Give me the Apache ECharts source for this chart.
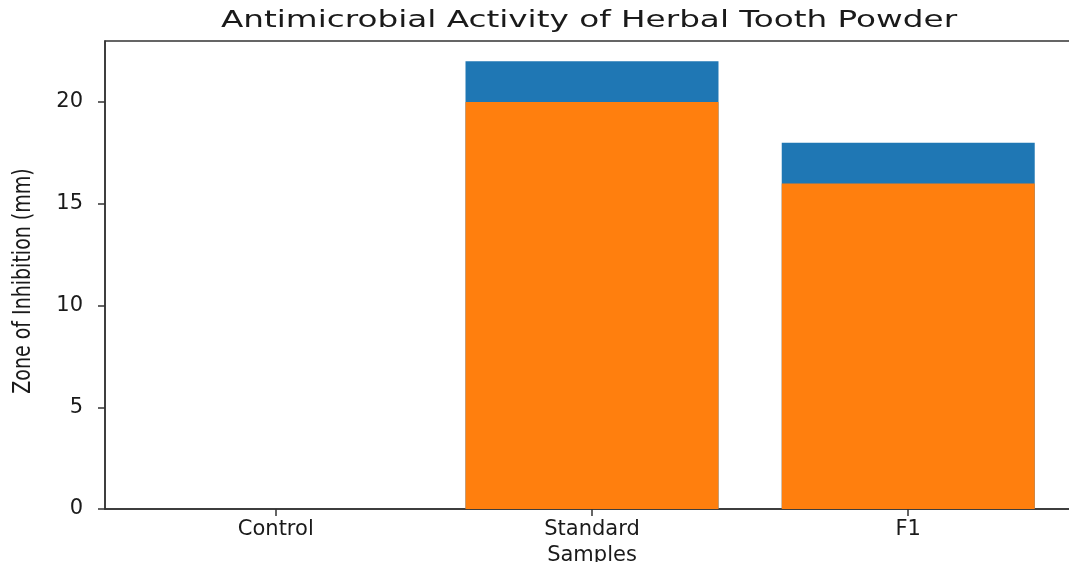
<!DOCTYPE html>
<html>
<head>
<meta charset="utf-8">
<script src="https://cdn.jsdelivr.net/npm/echarts@6/dist/echarts.min.js"></script>
<style>html,body{margin:0;padding:0;background:#fff}#c{width:1069px;height:562px}</style>
</head>
<body>
<div id="c"></div>
<script>
const categories = ['Control', 'Standard', 'F1'];
const blueValues = [0, 22, 18];
const orangeValues = [0, 20, 16];
const yTicks = [0, 5, 10, 15, 20];
const titleText = 'Antimicrobial Activity of Herbal Tooth Powder';
const xName = 'Samples';
const yName = 'Zone of Inhibition (mm)';

const GRID_LEFT = 105, GRID_TOP = 41, GRID_BOTTOM = 53, GRID_RIGHT = -10;
const XMIN = -0.54, XMAX = 2.54;
const gridWidth = 1069 - GRID_LEFT - GRID_RIGHT;
const barPx = 0.8 * gridWidth / (XMAX - XMIN);

const chart = echarts.init(document.getElementById('c'), null, {renderer: 'canvas'});
const font = 'DejaVu Sans';
const txt = '#1a1a1a';
chart.setOption({
  animation: false,
  graphic: [
    {type: 'text', x: 589, y: 21, scaleX: 1.42,
      style: {text: titleText, fontFamily: font, fontSize: 23, fill: txt, align: 'center', verticalAlign: 'middle'}},
    {type: 'text', x: 23, y: 281, rotation: Math.PI / 2, scaleY: 1.35,
      style: {text: yName, fontFamily: font, fontSize: 19, fill: txt, align: 'center', verticalAlign: 'middle'}}
  ],
  grid: {left: GRID_LEFT, right: GRID_RIGHT, top: GRID_TOP, bottom: GRID_BOTTOM,
    outerBoundsMode: 'none', containLabel: false,
    show: true, borderColor: '#333', borderWidth: 1.5, backgroundColor: 'transparent'},
  xAxis: {
    type: 'value', min: XMIN, max: XMAX,
    name: xName, nameLocation: 'middle', nameGap: 34,
    nameTextStyle: {fontFamily: font, fontSize: 21, color: txt},
    axisLine: {show: true, onZero: false, lineStyle: {color: '#333', width: 1.5}},
    axisTick: {show: true, length: 7, lineStyle: {color: '#333', width: 1.5}, customValues: [0, 1, 2]},
    axisLabel: {fontFamily: font, fontSize: 21, color: txt, margin: 10,
      customValues: [0, 1, 2], formatter: v => categories[Math.round(v)]},
    splitLine: {show: false}
  },
  yAxis: {
    type: 'value', min: 0, max: 23, interval: 5,
    axisLine: {show: true, onZero: false, lineStyle: {color: '#333', width: 1.5}},
    axisTick: {show: true, length: 7, lineStyle: {color: '#333', width: 1.5}, customValues: yTicks},
    axisLabel: {fontFamily: font, fontSize: 21, color: txt, margin: 22, customValues: yTicks},
    splitLine: {show: false}
  },
  series: [
    {type: 'bar', data: blueValues.map((v, i) => [i, v]), barWidth: barPx, barGap: '-100%',
      itemStyle: {color: '#1f77b4'}},
    {type: 'bar', data: orangeValues.map((v, i) => [i, v]), barWidth: barPx, barGap: '-100%',
      itemStyle: {color: '#ff7f0e'}}
  ]
});
</script>
</body>
</html>
